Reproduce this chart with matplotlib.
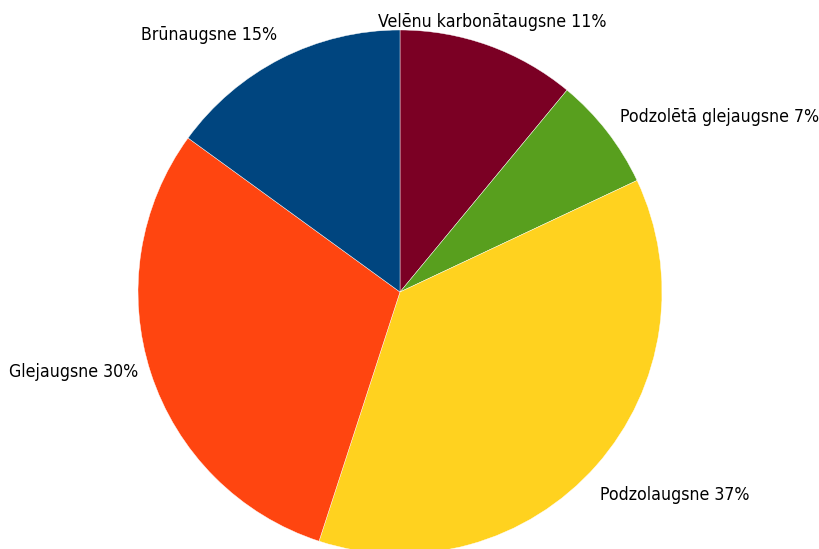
import matplotlib.pyplot as plt

labels = ["Velēnu karbonātaugsne", "Podzolētā glejaugsne", "Podzolaugsne", "Glejaugsne", "Brūnaugsne"]
values = [11, 7, 37, 30, 15]
colors = ["#7b0024", "#589f1e", "#ffd21f", "#ff4510", "#00457f"]

# label anchor points in pixels (x from left, y from top), horizontal alignment
label_pos = [(378, 22, "left"), (620, 117, "left"), (600, 495, "left"), (138, 372, "right"), (277, 35, "right")]

fig = plt.figure(figsize=(8.19, 5.49), dpi=100)
ax = fig.add_axes([0, 0, 1, 1])

ax.pie(values, colors=colors, startangle=90, counterclock=False,
       center=(400, 549 - 292), radius=262, frame=True,
       wedgeprops=dict(edgecolor="white", linewidth=0.3))
ax.set_xlim(0, 819)
ax.set_ylim(0, 549)
ax.set_aspect("auto")
ax.axis("off")

for (lab, v), (x, y, ha) in zip(zip(labels, values), label_pos):
    ax.text(x, 549 - y, f"{lab} {v}%", ha=ha, va="center",
            fontsize=12.7, family="DejaVu Sans", stretch="condensed")

fig.savefig("out.png", dpi=100)
